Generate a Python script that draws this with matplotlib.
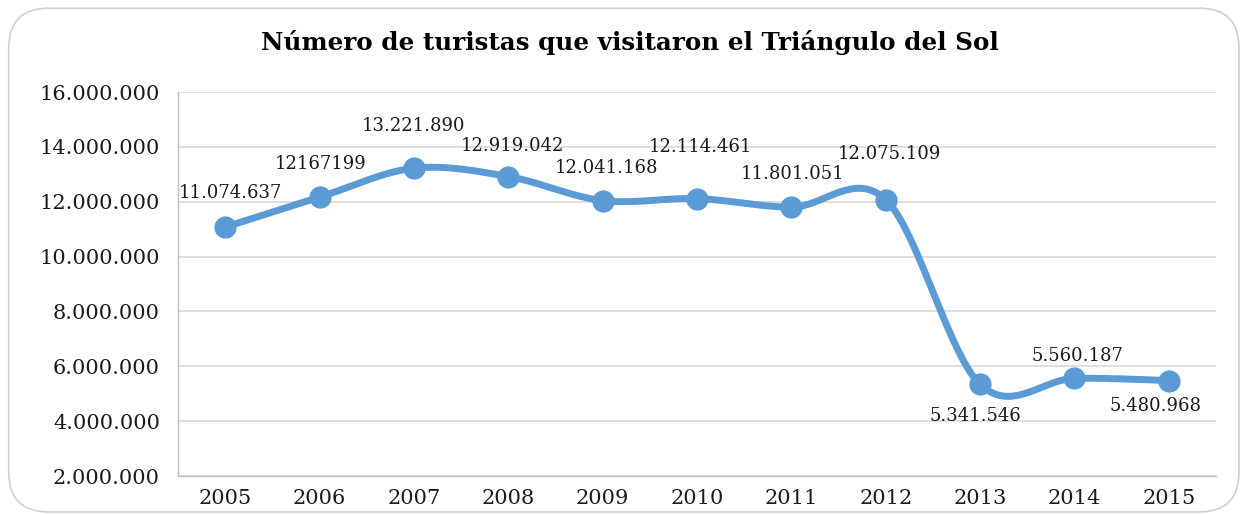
"""
Número de turistas que visitaron el Triángulo del Sol (2005-2015)
"""
import matplotlib.pyplot as plt
import numpy as np
from matplotlib.patches import FancyBboxPatch
from matplotlib.ticker import FuncFormatter

plt.rcParams['font.family'] = ['DejaVu Serif']

# datos
years = ['2005', '2006', '2007', '2008', '2009', '2010',
         '2011', '2012', '2013', '2014', '2015']
turistas = [11074637, 12167199, 13221890, 12919042, 12041168, 12114461,
            11801051, 12075109, 5341546, 5560187, 5480968]
etiquetas = ['11.074.637', '12167199', '13.221.890', '12.919.042', '12.041.168',
             '12.114.461', '11.801.051', '12.075.109', '5.341.546', '5.560.187',
             '5.480.968']
y_ticks = [2000000, 4000000, 6000000, 8000000, 10000000, 12000000, 14000000, 16000000]

color = '#5B9BD5'


def catmull_rom(x, y, n=40):
    """curva suavizada estilo Excel"""
    x = np.asarray(x, float)
    y = np.asarray(y, float)
    px = np.concatenate([[x[0]], x, [x[-1]]])
    py = np.concatenate([[y[0]], y, [y[-1]]])
    xs, ys = [], []
    t = np.linspace(0, 1, n)[:, None]
    for i in range(1, len(px) - 2):
        p0, p1, p2, p3 = (np.array([px[j], py[j]]) for j in (i - 1, i, i + 1, i + 2))
        c1 = p1 + (p2 - p0) / 6
        c2 = p2 - (p3 - p1) / 6
        pts = ((1 - t) ** 3 * p1 + 3 * (1 - t) ** 2 * t * c1
               + 3 * (1 - t) * t ** 2 * c2 + t ** 3 * p2)
        xs.extend(pts[:, 0])
        ys.extend(pts[:, 1])
    return np.array(xs), np.array(ys)


fig = plt.figure(figsize=(12.44, 5.14), dpi=100)

# borde redondeado
borde = FancyBboxPatch((0.007, 0.004), 0.989, 0.98, boxstyle='round,pad=0,rounding_size=0.032',
                       transform=fig.transFigure, facecolor='none', edgecolor='#D0D0D0',
                       linewidth=1.2, mutation_aspect=1244 / 514, zorder=-1)
fig.patches.append(borde)

ax = fig.add_axes([0.1431, 0.0739, 0.8344, 0.7471])
ax.patch.set_alpha(0)
xi = np.arange(len(years))
sx, sy = catmull_rom(xi, turistas)
ax.plot(sx, sy, color=color, linewidth=5, solid_capstyle='round', zorder=3)
ax.plot(xi, turistas, 'o', color=color, markersize=15, zorder=4)

# posiciones de las etiquetas (pixeles)
offsets = [(5, 34), (1, 33), (0, 42), (4, 31), (4, 33), (3, 52),
           (1, 33), (4, 46), (-5, -32), (3, 22), (-13, -25)]
for i, (lab, (dx, dy)) in enumerate(zip(etiquetas, offsets)):
    ax.annotate(lab, (xi[i], turistas[i]), xytext=(dx, dy), textcoords='offset pixels',
                ha='center', va='center', fontsize=13, color='#1a1a1a', zorder=5)

ax.set_xlim(-0.5, len(years) - 0.5)
ax.set_ylim(2000000, 16000000)
ax.set_xticks(xi)
ax.set_xticklabels(years)
ax.set_yticks(y_ticks)
ax.yaxis.set_major_formatter(FuncFormatter(lambda v, p: f'{int(v):,}'.replace(',', '.')))
ax.tick_params(length=0, labelsize=15, colors='#1a1a1a')
ax.tick_params(axis='y', pad=13)
ax.tick_params(axis='x', pad=9)
ax.grid(True, axis='y', color='#D9D9D9', linewidth=1.2)
ax.set_axisbelow(True)
for s in ['top', 'right']:
    ax.spines[s].set_visible(False)
for s in ['left', 'bottom']:
    ax.spines[s].set_color('#BFBFBF')
    ax.spines[s].set_linewidth(1.0)

fig.text(0.5065, 0.917, 'Número de turistas que visitaron el Triángulo del Sol',
         ha='center', va='center', fontsize=17.7, fontweight='bold', color='#000000')

plt.savefig('out.png', dpi=100)
plt.close()
